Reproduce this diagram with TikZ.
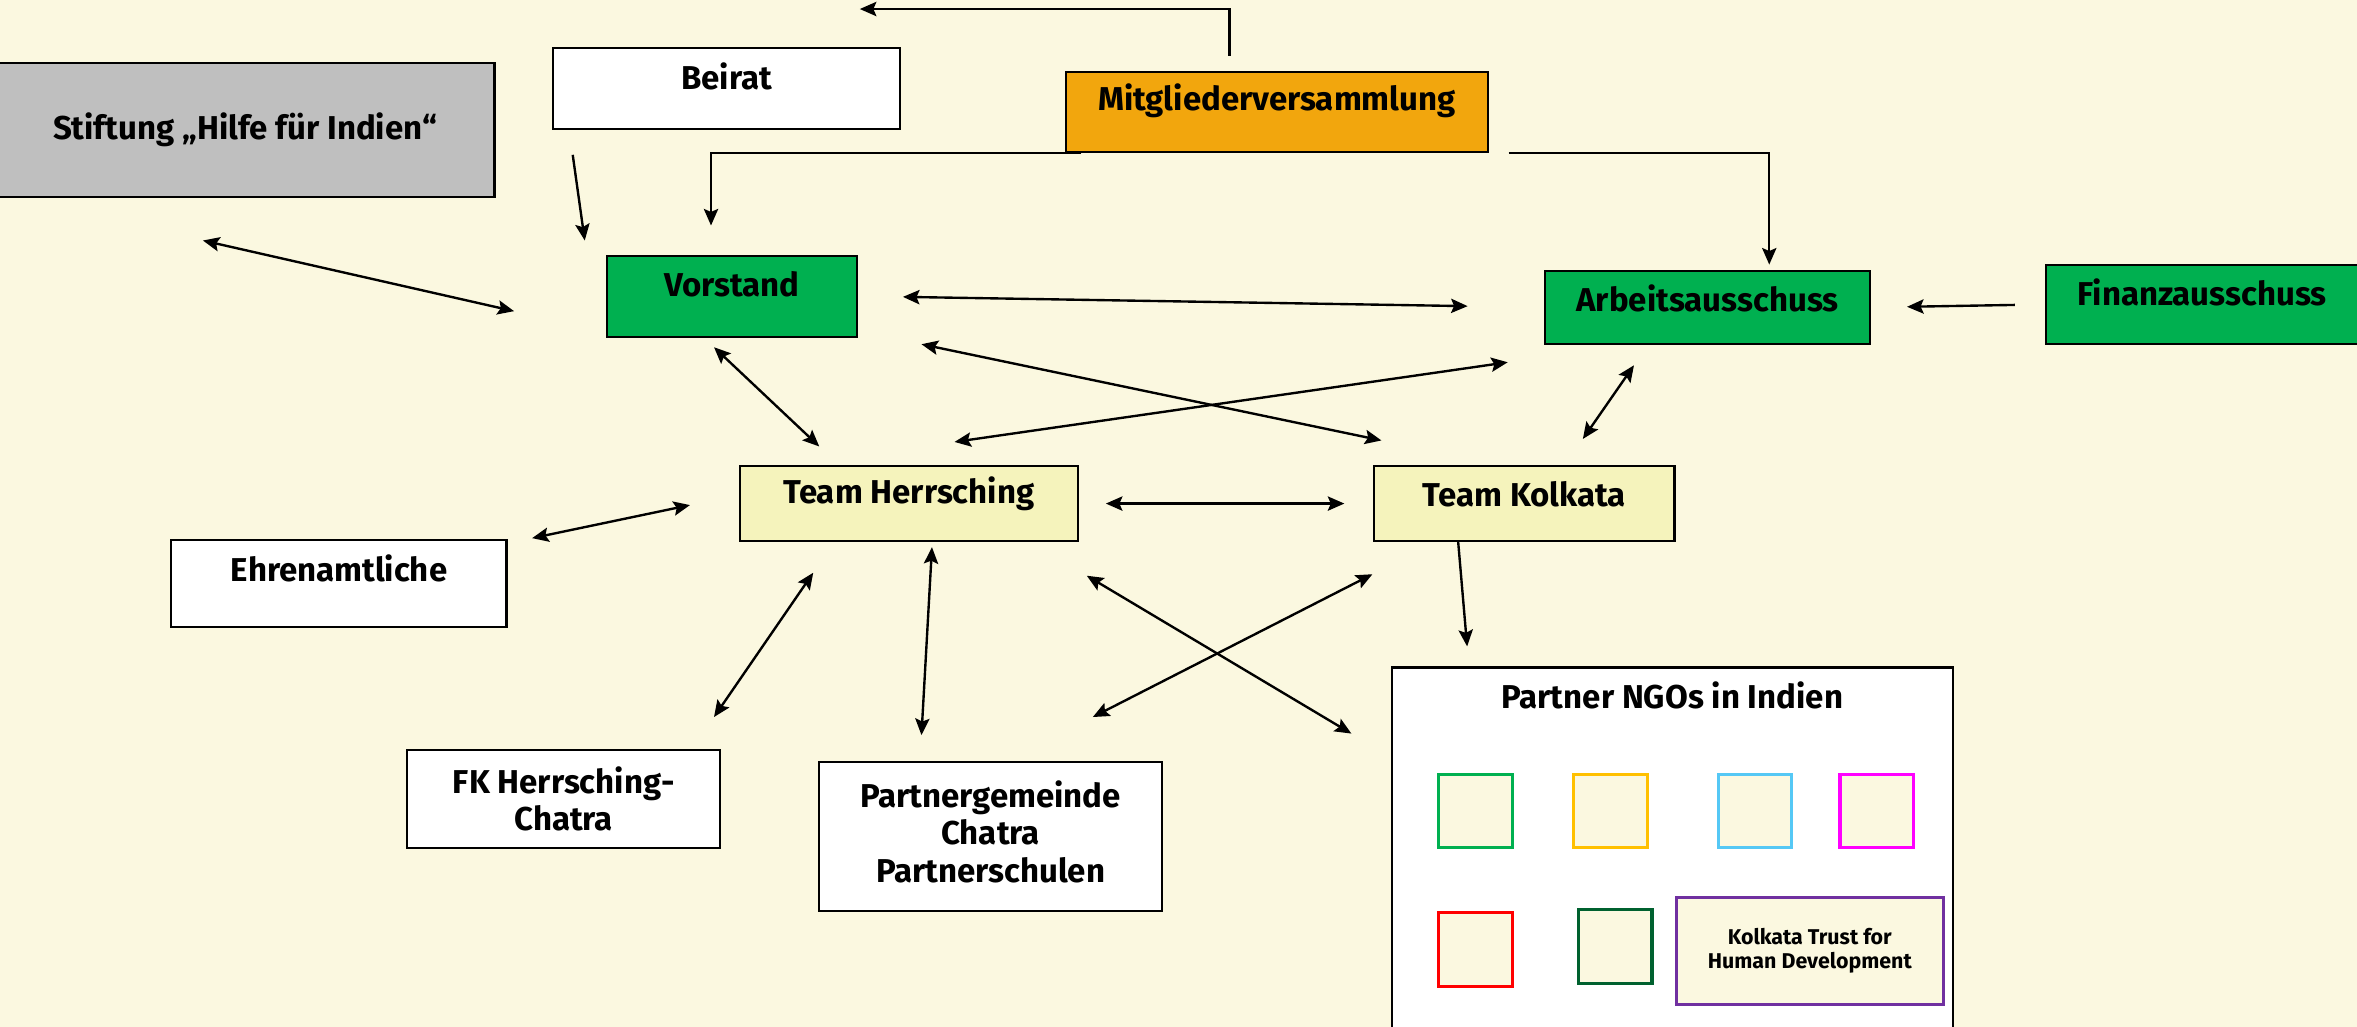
\documentclass[tikz,border=0pt]{standalone}
\usepackage{fontspec}
\setmainfont{Fira Sans}
\usetikzlibrary{arrows.meta, positioning}
\definecolor{bgcream}{HTML}{FBF8E0}
\definecolor{stiftgray}{HTML}{BFBFBF}
\definecolor{mvorange}{HTML}{F2A60D}
\definecolor{boardgreen}{HTML}{00B050}
\definecolor{teamyellow}{HTML}{F5F3BC}
\definecolor{ngoorange}{HTML}{FFC000}
\definecolor{ngocyan}{HTML}{55C8F5}
\definecolor{ngopink}{HTML}{FF00FF}
\definecolor{ngored}{HTML}{FF0000}
\definecolor{ngodark}{HTML}{00612F}
\definecolor{ngopurple}{HTML}{7030A0}

\begin{document}
\begin{tikzpicture}[>={Stealth[length=0.22cm, width=0.19cm, inset=0.04cm]}, x=0.02cm, y=-0.02cm,
    font=\fontsize{12.5}{14.2}\selectfont\bfseries]
      % Background
      \clip (0,0) rectangle (1568,683);
      \fill[bgcream] (0,0) rectangle (1568,683);

      % Define the styles for the boxes
      \tikzstyle{box}=[draw, line width=0.8pt, rectangle, inner sep=0pt, align=center]
      \tikzstyle{toplbl}=[anchor=center, yshift=-0.39cm, inner sep=0pt]
      \tikzstyle{ngo}=[draw, line width=1.2pt, fill=bgcream, minimum size=0.98cm, inner sep=0pt]

      % Nodes
      \node[box, fill=stiftgray, minimum width=6.64cm, minimum height=1.78cm] (stift) at (163,86.5) {Stiftung „Hilfe für Indien“};
      \node[box, fill=white, minimum width=4.62cm, minimum height=1.08cm, label={[toplbl]north:Beirat}] (beirat) at (483.5,59) {};
      \node[box, fill=mvorange, minimum width=5.62cm, minimum height=1.06cm, label={[toplbl]north:Mitgliederversammlung}] (mv) at (849.5,74.5) {};
      \node[box, fill=boardgreen, minimum width=3.32cm, minimum height=1.08cm, label={[toplbl]north:Vorstand}] (vor) at (487,197) {};
      \node[box, fill=boardgreen, minimum width=4.32cm, minimum height=0.98cm, label={[toplbl]north:Arbeitsausschuss}] (arb) at (1136,204.5) {};
      \node[box, fill=boardgreen, minimum width=4.16cm, minimum height=1.06cm, label={[toplbl]north:Finanzausschuss}] (fin) at (1465,202.5) {};
      \node[box, fill=teamyellow, minimum width=4.5cm, minimum height=1.0cm, label={[toplbl]north:Team Herrsching}] (th) at (604.5,335) {};
      \node[box, fill=teamyellow, minimum width=4.0cm, minimum height=1.0cm, label={[toplbl]north:Team Kolkata}] (tk) at (1014,335) {};
      \node[box, fill=white, minimum width=4.46cm, minimum height=1.16cm, label={[toplbl]north:Ehrenamtliche}] (ehr) at (225.5,388) {};
      \node[box, fill=white, minimum width=4.16cm, minimum height=1.3cm] (fk) at (375,531.5) {FK Herrsching-\\Chatra};
      \node[box, fill=white, minimum width=4.56cm, minimum height=1.98cm,
            label={[anchor=north, yshift=-0.25cm, inner sep=0pt, align=center]north:Partnergemeinde\\Chatra\\Partnerschulen}] (pg) at (659,556.5) {};
      \node[box, fill=white, minimum width=7.46cm, minimum height=5.12cm, label={[toplbl]north:Partner NGOs in Indien}] (ngo) at (1112.5,572) {};

      % Partner NGOs
      \node[ngo, draw=boardgreen] (ngo1) at (981.5,539.5) {};
      \node[ngo, draw=ngoorange] (ngo2) at (1071.5,539.5) {};
      \node[ngo, draw=ngocyan] (ngo3) at (1167.5,539.5) {};
      \node[ngo, draw=ngopink] (ngo4) at (1248.5,539.5) {};
      \node[ngo, draw=ngored] (ngo5) at (981.5,631.5) {};
      \node[ngo, draw=ngodark] (ngo6) at (1074.5,629.5) {};
      \node[ngo, draw=ngopurple, minimum width=3.56cm, minimum height=1.42cm, align=center,
            font=\fontsize{8.1}{9.1}\selectfont\bfseries] (kth) at (1204,632.5) {Kolkata Trust for\\Human Development};

      % Free ends of the edges
      \coordinate (mv-up) at (818,37);
      \coordinate (mv-left) at (572,6);
      \coordinate (vor-top) at (473,150);
      \coordinate (arb-top) at (1177,176);
      \coordinate (beirat-s) at (381,103);
      \coordinate (vor-nw) at (389,160);
      \coordinate (stift-s) at (135,160);
      \coordinate (vor-w) at (342,207);
      \coordinate (vor-s) at (475,231);
      \coordinate (vor-se) at (613,229);
      \coordinate (arb-sw) at (1003,241);
      \coordinate (arb-s) at (1087,243);
      \coordinate (th-n) at (545,297);
      \coordinate (th-ne) at (635,294);
      \coordinate (tk-nw) at (919,293);
      \coordinate (tk-n) at (1053,292);
      \coordinate (ehr-ne) at (354,358);
      \coordinate (th-w) at (459,336);
      \coordinate (th-sw) at (541,381);
      \coordinate (th-s) at (620,364);
      \coordinate (th-se) at (723,383);
      \coordinate (fk-n) at (475,477);
      \coordinate (pg-n) at (613,489);
      \coordinate (pg-ne) at (727,477);
      \coordinate (tk-sw) at (913,382);
      \coordinate (tk-s) at (970,360);
      \coordinate (ngo-nw) at (899,488);
      \coordinate (ngo-n) at (976,430);

      % Define the style for the edges
      \tikzstyle{edge}=[draw, line width=0.9pt]

      % Edges
      \draw[edge, ->] (mv-up) |- (mv-left);
      \draw[edge, ->] ([xshift=0.22cm]mv.south west) -| (vor-top);
      \draw[edge, ->] ([xshift=0.26cm]mv.south east) -| (arb-top);
      \draw[edge, ->] (beirat-s) -- (vor-nw);
      \draw[edge, <->] (stift-s) -- (vor-w);
      \draw[edge, <->, shorten <=0.6cm, shorten >=1.02cm] (vor.east) -- (arb.west);
      \draw[edge, ->, shorten <=0.4cm, shorten >=0.48cm] (fin.west) -- (arb.east);
      \draw[edge, <->] (vor-s) -- (th-n);
      \draw[edge, <->] (vor-se) -- (tk-nw);
      \draw[edge, <->] (arb-sw) -- (th-ne);
      \draw[edge, <->] (arb-s) -- (tk-n);
      \draw[edge, <->, shorten <=0.36cm, shorten >=0.38cm] (th.east) -- (tk.west);
      \draw[edge, <->] (ehr-ne) -- (th-w);
      \draw[edge, <->] (th-sw) -- (fk-n);
      \draw[edge, <->] (th-s) -- (pg-n);
      \draw[edge, <->] (th-se) -- (ngo-nw);
      \draw[edge, <->] (tk-sw) -- (pg-ne);
      \draw[edge, ->] (tk-s) -- (ngo-n);

    \end{tikzpicture}
\end{document}
